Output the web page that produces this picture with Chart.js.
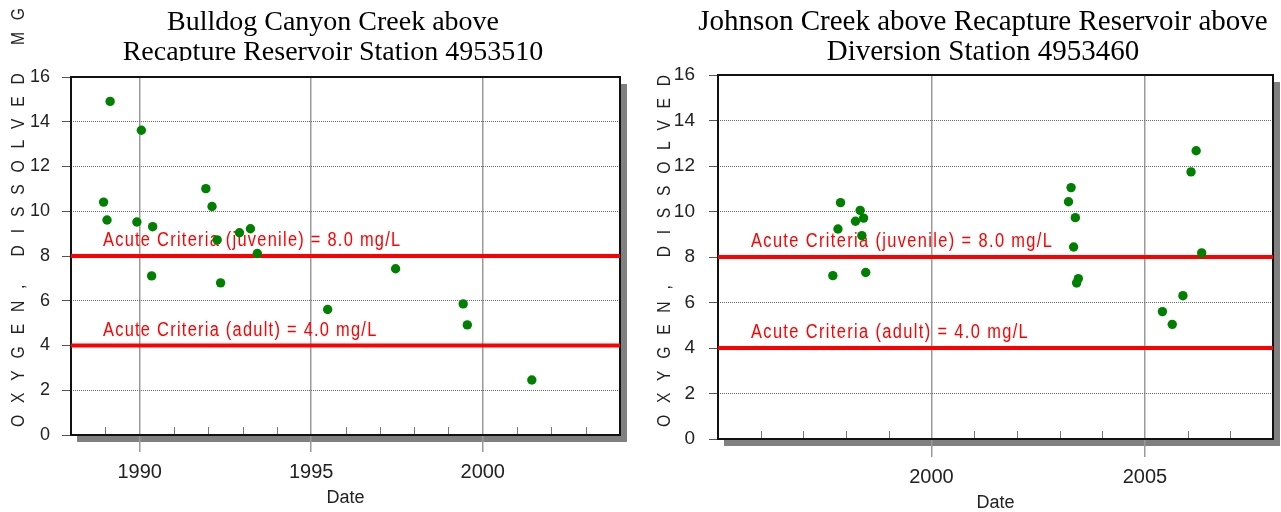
<!DOCTYPE html>
<html>
<head>
<meta charset="utf-8">
<script src="https://cdn.jsdelivr.net/npm/chart.js@4.4.1/dist/chart.umd.min.js"></script>
<style>
  html, body { margin: 0; padding: 0; background: #fff; }
  #wrap { position: relative; width: 1281px; height: 512px; overflow: hidden; }
  canvas { position: absolute; top: 0; }
</style>
</head>
<body>
<div id="wrap">
  <canvas id="bulldog" width="640" height="512" style="left:0"></canvas>
  <canvas id="johnson" width="641" height="512" style="left:640px"></canvas>
</div>
<script>
// Bulldog Canyon Creek above Recapture Reservoir, station 4953510
// sample date (decimal year) and dissolved oxygen (mg/L)
const bulldogDates = [1988.95, 1989.05, 1989.14, 1989.92, 1990.05, 1990.35, 1990.38, 1991.93, 1992.11, 1992.26,
                      1992.36, 1992.91, 1993.23, 1993.43, 1995.48, 1997.46, 1999.43, 1999.55, 2001.43];
const bulldogDO =    [10.41, 9.61, 14.91, 9.52, 13.62, 7.11, 9.31, 11.01, 10.21, 8.72,
                      6.80, 9.04, 9.22, 8.11, 5.61, 7.43, 5.86, 4.92, 2.46];

// Johnson Creek above Recapture Reservoir above diversion, station 4953460
const johnsonDates = [1997.69, 1997.81, 1997.87, 1998.22, 1998.33, 1998.37, 1998.41, 1998.46, 2003.21, 2003.27,
                      2003.33, 2003.37, 2003.40, 2003.44, 2005.41, 2005.64, 2005.89, 2006.08, 2006.20, 2006.33];
const johnsonDO =    [7.18, 9.23, 10.39, 9.57, 10.05, 8.94, 9.71, 7.32, 10.43, 11.05,
                      8.44, 9.73, 6.86, 7.05, 5.60, 5.04, 6.30, 11.74, 12.67, 8.18];

// acute criteria lines
const criteriaLevels = [8.0, 4.0];
const criteriaNames = ['Acute Criteria (juvenile) = 8.0 mg/L', 'Acute Criteria (adult) = 4.0 mg/L'];

// axes
const bulldogRange = [1988, 2004];
const johnsonRange = [1995, 2008];
const majorYears = 5;
const yMax = 16, yStep = 2;

const bulldogTitle = ['Bulldog Canyon Creek above', 'Recapture Reservoir Station 4953510'];
const johnsonTitle = ['Johnson Creek above Recapture Reservoir above', 'Diversion Station 4953460'];
const bulldogYTitle = 'OXYGEN, DISSOLVED MG';
const johnsonYTitle = 'OXYGEN, DISSOLVED';
const xTitle = 'Date';

const SANS = "'Liberation Sans', Arial, sans-serif";
const SERIF = "'Liberation Serif', 'Times New Roman', serif";
const SQUEEZE = 0.82; // fake a narrow face

// letter spacing (screen px) that stretches squeezed text to a width
function spacingFor(ctx, text, width) {
  ctx.letterSpacing = '0px';
  const w = ctx.measureText(text).width * SQUEEZE;
  return Math.max(0, (width - w) / (text.length - 1));
}

function narrowText(ctx, text, x, y, ls) {
  ctx.save();
  ctx.translate(x, y);
  ctx.scale(SQUEEZE, 1);
  ctx.letterSpacing = (ls / SQUEEZE).toFixed(2) + 'px';
  ctx.fillText(text, 0, 0);
  ctx.restore();
}

const framePlugin = {
  id: 'frame',
  beforeDraw(chart) {
    const { ctx, chartArea: a } = chart;
    ctx.save();
    ctx.fillStyle = '#808080';
    ctx.fillRect(a.left + 6, a.bottom, a.right - a.left, 7);
    ctx.fillRect(a.right, a.top + 7, 7, a.bottom - a.top);
    ctx.restore();
  },
  beforeDatasetsDraw(chart, args, o) {
    const { ctx, chartArea: a, scales: { x, y } } = chart;
    ctx.save();
    // minor year ticks on the bottom edge
    ctx.strokeStyle = '#777';
    ctx.lineWidth = 1;
    x.ticks.forEach(t => {
      if (t.value % majorYears === 0) return;
      const px = Math.round(x.getPixelForValue(t.value)) + 0.5;
      ctx.beginPath();
      ctx.moveTo(px, a.bottom);
      ctx.lineTo(px, a.bottom - 8);
      ctx.stroke();
    });
    // plot frame
    ctx.strokeStyle = '#111';
    ctx.lineWidth = 2;
    ctx.strokeRect(a.left, a.top, a.right - a.left, a.bottom - a.top);

    // criteria labels
    ctx.fillStyle = '#ff0000';
    ctx.font = '20px ' + SANS;
    ctx.textBaseline = 'alphabetic';
    ctx.textAlign = 'left';
    const ls = spacingFor(ctx, criteriaNames[0], o.labelWidth);
    criteriaLevels.forEach((v, i) => {
      narrowText(ctx, criteriaNames[i], a.left + o.labelDX, y.getPixelForValue(v) - 10, ls);
    });
    ctx.restore();
  },
  afterDraw(chart, args, o) {
    const { ctx } = chart;
    // chart title, cut off just under the second line like the original
    ctx.save();
    ctx.beginPath();
    ctx.rect(0, 0, chart.width, o.titleClip);
    ctx.clip();
    ctx.fillStyle = '#000';
    ctx.font = o.titleSize + 'px ' + SERIF;
    ctx.textAlign = 'center';
    ctx.textBaseline = 'alphabetic';
    o.title.forEach((line, i) => ctx.fillText(line, o.titleX, 30 + i * 30));
    ctx.restore();

    // y axis title, rotated and spread out
    ctx.save();
    ctx.translate(o.yTitleX, o.yTitleBottom);
    ctx.rotate(-Math.PI / 2);
    ctx.font = '19px ' + SANS;
    ctx.fillStyle = '#222';
    ctx.textAlign = 'left';
    ctx.textBaseline = 'middle';
    const ls = spacingFor(ctx, o.yTitle, o.yTitleLen);
    narrowText(ctx, o.yTitle, 0, 0, ls);
    ctx.restore();
  }
};

function build(id, dates, values, range, st) {
  const points = dates.map((d, i) => ({ x: d, y: values[i] }));
  const lines = criteriaLevels.map(v => ({
    type: 'line',
    data: [{ x: range[0], y: v }, { x: range[1], y: v }],
    borderColor: '#ff0000',
    borderWidth: 4,
    pointRadius: 0,
    order: 1
  }));
  const isMajor = v => v % majorYears === 0 && v !== range[0] && v !== range[1];
  return new Chart(document.getElementById(id), {
    type: 'scatter',
    data: {
      datasets: [
        { data: points, backgroundColor: '#008000', borderWidth: 0, pointRadius: 4.7, order: 0 },
        ...lines
      ]
    },
    options: {
      responsive: false,
      animation: false,
      layout: { padding: { top: st.padTop, left: 0, right: st.padRight, bottom: 0 } },
      plugins: {
        legend: { display: false },
        tooltip: { enabled: false },
        title: { display: false },
        frame: st.frame
      },
      scales: {
        x: {
          type: 'linear',
          min: range[0],
          max: range[1],
          afterFit: s => { s.height = st.xAxisH; },
          ticks: {
            stepSize: 1,
            autoSkip: false,
            maxRotation: 0,
            padding: 8,
            color: '#222',
            font: { family: SANS, size: 20 },
            callback: v => (isMajor(v) ? String(v) : '')
          },
          grid: {
            color: c => (c.tick && isMajor(c.tick.value) ? '#9a9a9a' : 'rgba(0,0,0,0)'),
            lineWidth: 1.5,
            tickLength: st.xTick
          },
          border: { display: false },
          title: {
            display: true,
            text: xTitle,
            color: '#222',
            font: { family: SANS, size: 18, lineHeight: 1 },
            padding: { top: 0, bottom: st.dateBottom }
          }
        },
        y: {
          min: 0,
          max: yMax,
          afterFit: s => { s.width = st.yAxisW; },
          ticks: {
            stepSize: yStep,
            padding: st.yPad,
            color: '#222',
            font: { family: SANS, size: st.yFont }
          },
          grid: { color: '#6a6a6a', lineWidth: 1, tickLength: 9, tickColor: '#555' },
          border: { display: false, dash: [1, 1] }
        }
      }
    },
    plugins: [framePlugin]
  });
}

build('bulldog', bulldogDates, bulldogDO, bulldogRange, {
  padTop: 77, padRight: 20, xAxisH: 77, xTick: 17, dateBottom: 5,
  yAxisW: 71, yPad: 12, yFont: 18,
  frame: {
    title: bulldogTitle, titleX: 333, titleSize: 28, titleClip: 61,
    labelDX: 32, labelWidth: 297,
    yTitle: bulldogYTitle, yTitleX: 19, yTitleBottom: 427, yTitleLen: 419
  }
});

build('johnson', johnsonDates, johnsonDO, johnsonRange, {
  padTop: 75, padRight: 4, xAxisH: 73, xTick: 18, dateBottom: 0,
  yAxisW: 78, yPad: 14, yFont: 19,
  frame: {
    title: johnsonTitle, titleX: 343, titleSize: 29, titleClip: 61,
    labelDX: 33, labelWidth: 301,
    yTitle: johnsonYTitle, yTitleX: 25, yTitleBottom: 427, yTitleLen: 352
  }
});
</script>
</body>
</html>
